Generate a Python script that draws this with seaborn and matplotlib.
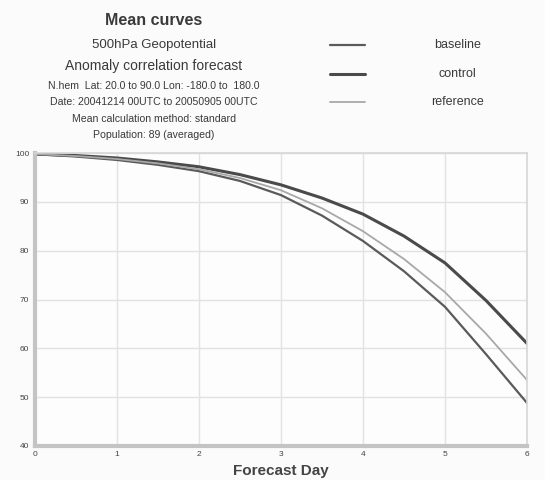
import numpy as np
import pandas as pd
import matplotlib
matplotlib.use("Agg")
import matplotlib.pyplot as plt
from matplotlib.lines import Line2D
import seaborn as sns

# valores (ACC em %)
dias = [0, 0.5, 1, 1.5, 2, 2.5, 3, 3.5, 4, 4.5, 5, 5.5, 6]
baseline = [99.8, 99.3, 98.6, 97.6, 96.3, 94.3, 91.4, 87.2, 82.0, 75.8, 68.5, 58.8, 48.8]
control = [99.8, 99.5, 99.0, 98.2, 97.2, 95.6, 93.5, 90.8, 87.5, 83.0, 77.5, 69.8, 61.0]
reference = [99.8, 99.4, 98.8, 97.9, 96.7, 94.9, 92.4, 88.7, 84.0, 78.3, 71.5, 63.0, 53.5]

series = ['baseline', 'control', 'reference']
cores = {'baseline': '#5a5a5a', 'control': '#4a4a4a', 'reference': '#a8a8a8'}
larguras = {'baseline': 1.6, 'control': 2.2, 'reference': 1.3}

titulo = ['500hPa Geopotential',
          'Anomaly correlation forecast',
          'N.hem  Lat: 20.0 to 90.0 Lon: -180.0 to  180.0',
          'Date: 20041214 00UTC to 20050905 00UTC',
          'Mean calculation method: standard',
          'Population: 89 (averaged)']

df = pd.DataFrame({'Dia': dias, 'baseline': baseline, 'control': control, 'reference': reference})
df_long = df.melt(id_vars='Dia', var_name='Serie', value_name='ACC')

sns.set_style("whitegrid")
plt.rcParams['font.family'] = ['Liberation Sans', 'DejaVu Sans']

fig = plt.figure(figsize=(5.45, 4.8), dpi=100, facecolor='#fbfbfb')
ax = fig.add_axes([0.064, 0.071, 0.903, 0.61])
ax.set_facecolor('#fdfdfd')

for s in series:
    sns.lineplot(data=df_long[df_long['Serie'] == s], x='Dia', y='ACC', ax=ax,
                 color=cores[s], linewidth=larguras[s], legend=False)

ax.set_xlim(0, 6)
ax.set_ylim(40, 100)
ax.set_xticks(range(7))
ax.set_yticks(range(40, 101, 10))
ax.tick_params(labelsize=6, colors='#444444', length=2, pad=2)
ax.grid(color='#e2e2e2', linewidth=1.0)
for lado in ['left', 'bottom']:
    ax.spines[lado].set_color('#c4c4c4')
    ax.spines[lado].set_linewidth(3)
for lado in ['top', 'right']:
    ax.spines[lado].set_color('#d6d6d6')
    ax.spines[lado].set_linewidth(1.2)
ax.set_xlabel('Forecast Day', fontsize=11, fontweight='bold', color='#444444', labelpad=4)
ax.set_ylabel('')

# bloco de titulo
fig.text(0.282, 0.958, 'Mean curves', ha='center', va='center', fontsize=11.5,
         fontweight='bold', color='#3a3a3a')
ys = [0.906, 0.862, 0.821, 0.787, 0.752, 0.719]
tam = [9.5, 10, 7.6, 7.6, 7.6, 7.6]
for t, y, f in zip(titulo, ys, tam):
    fig.text(0.282, y, t, ha='center', va='center', fontsize=f, color='#3a3a3a')

# legenda
ys_leg = [0.906, 0.846, 0.787]
for s, y in zip(series, ys_leg):
    fig.lines.append(Line2D([0.605, 0.67], [y, y], transform=fig.transFigure,
                            color=cores[s], linewidth=larguras[s]))
    fig.text(0.84, y, s, ha='center', va='center', fontsize=9, color='#3a3a3a')

fig.savefig('out.png', dpi=100, facecolor=fig.get_facecolor())
